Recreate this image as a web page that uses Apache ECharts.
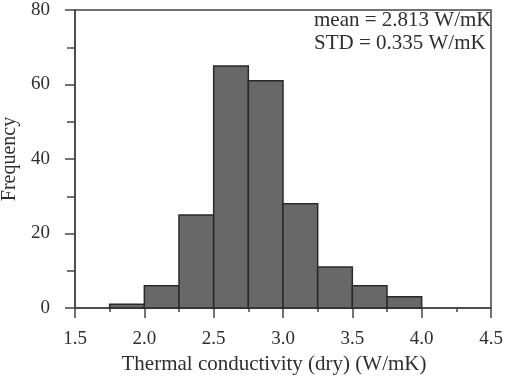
<!DOCTYPE html>
<html>
<head>
<meta charset="utf-8">
<script src="https://cdn.jsdelivr.net/npm/echarts@6/dist/echarts.min.js"></script>
<style>
  html, body { margin: 0; padding: 0; background: #fff; }
  #main { width: 509px; height: 378px; }
</style>
</head>
<body>
<div id="main"></div>
<script>
// histogram bins (W/mK) and counts
var binStart = [1.75, 2.0, 2.25, 2.5, 2.75, 3.0, 3.25, 3.5, 3.75];
var binEnd = [2.0, 2.25, 2.5, 2.75, 3.0, 3.25, 3.5, 3.75, 4.0];
var freq = [1, 6, 25, 65, 61, 28, 11, 6, 3];
var statLines = ['mean = 2.813 W/mK', 'STD = 0.335 W/mK'];

var font = 'Liberation Serif';
var ink = '#2e2e2e';

var bars = binStart.map(function (s, i) {
    return [s, binEnd[i], freq[i]];
});

var chart = echarts.init(document.getElementById('main'));

chart.setOption({
    animation: false,
    grid: {
        left: 75, right: 18, top: 10, bottom: 70,
        outerBoundsMode: 'none',
        show: true, borderColor: '#444', borderWidth: 1.5
    },
    xAxis: {
        type: 'value',
        min: 1.5, max: 4.5, interval: 0.5,
        name: 'Thermal conductivity (dry) (W/mK)',
        nameLocation: 'middle',
        nameGap: 42,
        nameTextStyle: { fontFamily: font, fontSize: 21, color: ink, padding: [0, 18, 0, 0] },
        axisLine: { lineStyle: { color: '#444', width: 1.5 } },
        axisTick: { length: 10, lineStyle: { color: '#444', width: 1.5 } },
        minorTick: { show: true, splitNumber: 2, length: 4, lineStyle: { color: '#444', width: 1.5 } },
        splitLine: { show: false },
        axisLabel: {
            fontFamily: font, fontSize: 19, color: ink, margin: 22,
            formatter: function (v) { return v.toFixed(1); }
        }
    },
    yAxis: {
        type: 'value',
        min: 0, max: 80, interval: 20,
        name: 'Frequency',
        nameLocation: 'middle',
        nameGap: 54,
        nameTextStyle: { fontFamily: font, fontSize: 20, color: ink },
        axisLine: { show: true, lineStyle: { color: '#444', width: 1.5 } },
        axisTick: { show: true, length: 10, lineStyle: { color: '#444', width: 1.5 } },
        minorTick: { show: true, splitNumber: 2, length: 8, lineStyle: { color: '#444', width: 1.5 } },
        splitLine: { show: false },
        axisLabel: { fontFamily: font, fontSize: 19, color: ink, margin: 25 }
    },
    graphic: [{
        type: 'text',
        left: 314, top: 9,
        style: {
            text: statLines.join('\n'),
            font: '21px ' + font,
            fill: ink,
            lineHeight: 23
        }
    }],
    series: [{
        type: 'custom',
        data: bars,
        encode: { x: [0, 1], y: 2 },
        renderItem: function (params, api) {
            var p0 = api.coord([api.value(0), api.value(2)]);
            var p1 = api.coord([api.value(1), 0]);
            return {
                type: 'rect',
                shape: { x: p0[0], y: p0[1], width: p1[0] - p0[0], height: p1[1] - p0[1] },
                style: { fill: '#686868', stroke: '#2a2a2a', lineWidth: 1.5 }
            };
        }
    }]
});
</script>
</body>
</html>
